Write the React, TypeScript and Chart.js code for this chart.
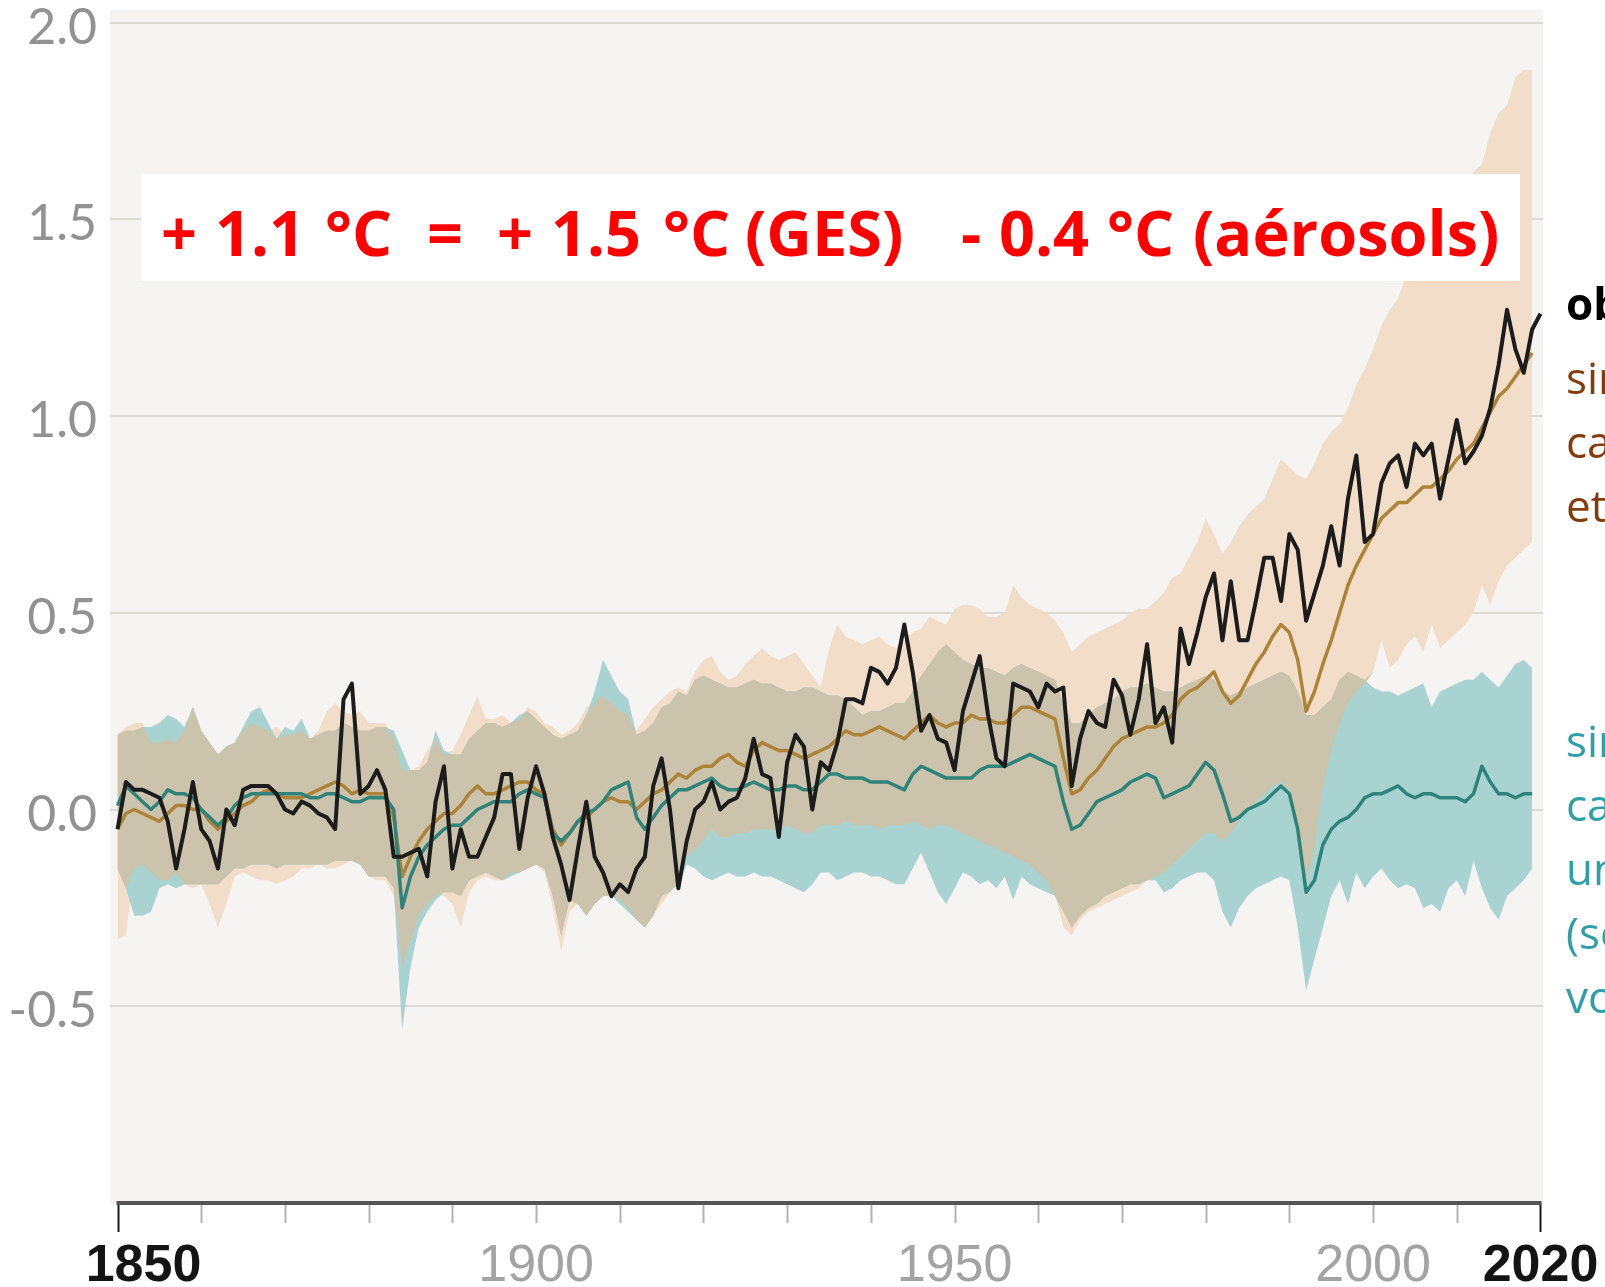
import { useEffect, useRef } from 'react';
import { Chart, registerables } from 'chart.js';

Chart.register(...registerables);

// ---------------- DATA ----------------
const START_YEAR = 1850;

// Observed temperature change (°C), 1850-2020
const OBS = [
  -0.05, 0.07, 0.05, 0.05, 0.04, 0.03, -0.03, -0.15, -0.05, 0.07,
  -0.05, -0.08, -0.15, 0.00, -0.04, 0.05, 0.06, 0.06, 0.06, 0.04,
  0.00, -0.01, 0.02, 0.01, -0.01, -0.02, -0.05, 0.28, 0.32, 0.04,
  0.06, 0.10, 0.05, -0.12, -0.12, -0.11, -0.10, -0.17, 0.02, 0.11,
  -0.15, -0.05, -0.12, -0.12, -0.07, -0.02, 0.09, 0.09, -0.10, 0.03,
  0.11, 0.04, -0.07, -0.14, -0.23, -0.10, 0.02, -0.12, -0.16, -0.22,
  -0.19, -0.21, -0.15, -0.12, 0.06, 0.13, 0.00, -0.20, -0.08, 0.00,
  0.02, 0.07, 0.00, 0.02, 0.03, 0.08, 0.18, 0.09, 0.08, -0.07,
  0.12, 0.19, 0.16, 0.00, 0.12, 0.10, 0.17, 0.28, 0.28, 0.27,
  0.36, 0.35, 0.32, 0.36, 0.47, 0.35, 0.20, 0.24, 0.18, 0.17,
  0.10, 0.25, 0.32, 0.39, 0.24, 0.13, 0.11, 0.32, 0.31, 0.30,
  0.26, 0.32, 0.30, 0.31, 0.06, 0.18, 0.25, 0.22, 0.21, 0.33,
  0.29, 0.19, 0.28, 0.42, 0.22, 0.26, 0.17, 0.46, 0.37, 0.45,
  0.54, 0.60, 0.43, 0.58, 0.43, 0.43, 0.53, 0.64, 0.64, 0.53,
  0.70, 0.66, 0.48, 0.55, 0.62, 0.72, 0.62, 0.79, 0.90, 0.68,
  0.70, 0.83, 0.88, 0.90, 0.82, 0.93, 0.90, 0.93, 0.79, 0.89,
  0.99, 0.88, 0.91, 0.95, 1.02, 1.13, 1.27, 1.17, 1.11, 1.22,
  1.26,
];

// Simulations: human + natural causes (mean), 1850-2019
const SIM_HN = [
  -0.05, -0.01, 0.00, -0.01, -0.02, -0.03, -0.01, 0.01, 0.01, 0.00,
  0.00, -0.03, -0.05, -0.03, -0.01, 0.01, 0.02, 0.04, 0.05, 0.04,
  0.03, 0.03, 0.03, 0.04, 0.05, 0.06, 0.07, 0.06, 0.04, 0.05,
  0.04, 0.04, 0.04, -0.02, -0.17, -0.12, -0.08, -0.05, -0.03, -0.01,
  -0.01, 0.01, 0.04, 0.06, 0.04, 0.04, 0.05, 0.06, 0.07, 0.07,
  0.05, 0.04, -0.05, -0.09, -0.06, -0.03, -0.02, 0.00, 0.02, 0.03,
  0.02, 0.02, 0.00, 0.02, 0.04, 0.05, 0.07, 0.09, 0.08, 0.10,
  0.11, 0.11, 0.13, 0.14, 0.12, 0.11, 0.15, 0.17, 0.16, 0.15,
  0.15, 0.14, 0.13, 0.14, 0.15, 0.16, 0.18, 0.20, 0.19, 0.19,
  0.20, 0.21, 0.20, 0.19, 0.18, 0.20, 0.22, 0.24, 0.22, 0.21,
  0.22, 0.22, 0.24, 0.23, 0.23, 0.22, 0.22, 0.24, 0.26, 0.26,
  0.25, 0.24, 0.23, 0.13, 0.04, 0.05, 0.08, 0.10, 0.13, 0.16,
  0.18, 0.19, 0.20, 0.21, 0.21, 0.22, 0.24, 0.28, 0.30, 0.31,
  0.33, 0.35, 0.30, 0.27, 0.29, 0.33, 0.37, 0.40, 0.44, 0.47,
  0.45, 0.38, 0.25, 0.30, 0.37, 0.43, 0.50, 0.57, 0.62, 0.66,
  0.70, 0.74, 0.76, 0.78, 0.78, 0.80, 0.82, 0.82, 0.84, 0.86,
  0.89, 0.91, 0.93, 0.97, 1.01, 1.05, 1.07, 1.10, 1.13, 1.16,
];

// Simulations: natural causes only (mean), 1850-2019
const SIM_NAT = [
  0.01, 0.06, 0.04, 0.02, 0.00, 0.02, 0.05, 0.04, 0.04, 0.03,
  0.00, -0.02, -0.04, -0.02, 0.01, 0.03, 0.04, 0.04, 0.04, 0.04,
  0.04, 0.04, 0.04, 0.03, 0.03, 0.04, 0.04, 0.03, 0.02, 0.02,
  0.03, 0.03, 0.03, 0.00, -0.25, -0.17, -0.12, -0.09, -0.07, -0.05,
  -0.04, -0.04, -0.02, 0.00, 0.01, 0.02, 0.02, 0.02, 0.04, 0.05,
  0.04, 0.03, -0.06, -0.08, -0.06, -0.03, -0.01, 0.00, 0.02, 0.05,
  0.06, 0.07, -0.02, -0.05, -0.02, 0.01, 0.03, 0.05, 0.05, 0.06,
  0.07, 0.08, 0.06, 0.05, 0.05, 0.06, 0.07, 0.06, 0.05, 0.05,
  0.06, 0.06, 0.05, 0.05, 0.07, 0.09, 0.09, 0.08, 0.08, 0.08,
  0.07, 0.07, 0.07, 0.06, 0.05, 0.09, 0.11, 0.10, 0.09, 0.08,
  0.08, 0.08, 0.08, 0.10, 0.11, 0.11, 0.11, 0.12, 0.13, 0.14,
  0.13, 0.12, 0.11, 0.02, -0.05, -0.04, -0.01, 0.02, 0.03, 0.04,
  0.05, 0.07, 0.08, 0.09, 0.08, 0.03, 0.04, 0.05, 0.06, 0.09,
  0.12, 0.10, 0.04, -0.03, -0.02, 0.00, 0.01, 0.02, 0.04, 0.06,
  0.04, -0.05, -0.21, -0.18, -0.09, -0.05, -0.03, -0.02, 0.00, 0.03,
  0.04, 0.04, 0.05, 0.06, 0.04, 0.03, 0.04, 0.04, 0.03, 0.03,
  0.03, 0.02, 0.04, 0.11, 0.07, 0.04, 0.04, 0.03, 0.04, 0.04,
];

// Human + natural range, upper / lower
const HN_UP = [
  0.19, 0.21, 0.22, 0.22, 0.17, 0.17, 0.18, 0.17, 0.20, 0.26,
  0.20, 0.17, 0.14, 0.16, 0.17, 0.20, 0.22, 0.21, 0.20, 0.21,
  0.19, 0.19, 0.20, 0.18, 0.20, 0.25, 0.27, 0.25, 0.24, 0.25,
  0.22, 0.22, 0.22, 0.18, 0.10, 0.10, 0.11, 0.15, 0.18, 0.14,
  0.15, 0.19, 0.24, 0.29, 0.23, 0.23, 0.24, 0.22, 0.23, 0.26,
  0.25, 0.22, 0.21, 0.19, 0.20, 0.22, 0.26, 0.27, 0.29, 0.27,
  0.25, 0.24, 0.20, 0.23, 0.26, 0.28, 0.30, 0.31, 0.30, 0.35,
  0.38, 0.39, 0.35, 0.33, 0.34, 0.37, 0.39, 0.41, 0.39, 0.38,
  0.39, 0.40, 0.37, 0.34, 0.31, 0.41, 0.47, 0.44, 0.43, 0.42,
  0.43, 0.44, 0.42, 0.41, 0.43, 0.45, 0.46, 0.49, 0.48, 0.47,
  0.51, 0.52, 0.52, 0.51, 0.49, 0.49, 0.50, 0.57, 0.54, 0.52,
  0.51, 0.50, 0.48, 0.45, 0.40, 0.42, 0.44, 0.45, 0.46, 0.47,
  0.48, 0.50, 0.51, 0.51, 0.53, 0.55, 0.59, 0.60, 0.64, 0.68,
  0.74, 0.70, 0.65, 0.68, 0.72, 0.75, 0.77, 0.79, 0.84, 0.89,
  0.87, 0.85, 0.84, 0.88, 0.93, 0.96, 0.98, 1.02, 1.08, 1.12,
  1.17, 1.23, 1.27, 1.30, 1.36, 1.42, 1.46, 1.50, 1.54, 1.56,
  1.58, 1.60, 1.62, 1.64, 1.72, 1.77, 1.79, 1.86, 1.88, 1.88,
];
const HN_LO = [
  -0.33, -0.32, -0.15, -0.14, -0.16, -0.18, -0.18, -0.16, -0.19, -0.20,
  -0.19, -0.24, -0.30, -0.24, -0.17, -0.16, -0.17, -0.18, -0.18, -0.19,
  -0.18, -0.17, -0.15, -0.15, -0.14, -0.15, -0.15, -0.14, -0.13, -0.14,
  -0.17, -0.18, -0.18, -0.22, -0.40, -0.33, -0.27, -0.24, -0.22, -0.22,
  -0.24, -0.30, -0.21, -0.18, -0.17, -0.18, -0.18, -0.16, -0.16, -0.15,
  -0.14, -0.16, -0.25, -0.36, -0.26, -0.24, -0.27, -0.24, -0.22, -0.22,
  -0.23, -0.25, -0.28, -0.30, -0.27, -0.24, -0.21, -0.18, -0.12, -0.10,
  -0.08, -0.05, -0.07, -0.07, -0.06, -0.06, -0.05, -0.05, -0.05, -0.05,
  -0.04, -0.05, -0.06, -0.06, -0.04, -0.04, -0.04, -0.03, -0.04, -0.04,
  -0.04, -0.05, -0.04, -0.04, -0.04, -0.03, -0.04, -0.05, -0.04, -0.04,
  -0.05, -0.06, -0.07, -0.08, -0.09, -0.10, -0.11, -0.12, -0.13, -0.14,
  -0.16, -0.18, -0.22, -0.30, -0.32, -0.28, -0.26, -0.25, -0.24, -0.23,
  -0.22, -0.21, -0.20, -0.18, -0.17, -0.16, -0.14, -0.12, -0.10, -0.08,
  -0.06, -0.06, -0.08, -0.06, -0.03, 0.00, 0.02, 0.04, 0.06, 0.07,
  0.05, -0.06, -0.18, -0.10, 0.06, 0.15, 0.22, 0.27, 0.30, 0.32,
  0.35, 0.43, 0.36, 0.38, 0.42, 0.44, 0.40, 0.47, 0.41, 0.43,
  0.45, 0.47, 0.50, 0.57, 0.52, 0.58, 0.62, 0.64, 0.66, 0.68,
];

// Natural-only range, upper / lower
const NAT_UP = [
  0.19, 0.20, 0.20, 0.21, 0.21, 0.22, 0.24, 0.23, 0.21, 0.26,
  0.20, 0.17, 0.14, 0.16, 0.17, 0.21, 0.25, 0.26, 0.22, 0.18,
  0.21, 0.20, 0.23, 0.18, 0.19, 0.20, 0.20, 0.22, 0.21, 0.20,
  0.20, 0.21, 0.21, 0.20, 0.15, 0.10, 0.10, 0.12, 0.20, 0.15,
  0.14, 0.14, 0.18, 0.20, 0.22, 0.22, 0.21, 0.22, 0.24, 0.25,
  0.23, 0.21, 0.19, 0.18, 0.19, 0.20, 0.24, 0.30, 0.38, 0.34,
  0.30, 0.28, 0.19, 0.20, 0.22, 0.26, 0.27, 0.30, 0.29, 0.33,
  0.34, 0.33, 0.32, 0.31, 0.31, 0.32, 0.33, 0.32, 0.32, 0.31,
  0.30, 0.30, 0.31, 0.31, 0.30, 0.29, 0.29, 0.28, 0.26, 0.24,
  0.25, 0.25, 0.26, 0.27, 0.27, 0.30, 0.34, 0.37, 0.40, 0.42,
  0.40, 0.38, 0.37, 0.36, 0.36, 0.35, 0.34, 0.36, 0.37, 0.36,
  0.35, 0.34, 0.33, 0.27, 0.22, 0.22, 0.24, 0.26, 0.27, 0.28,
  0.30, 0.31, 0.31, 0.32, 0.31, 0.30, 0.30, 0.31, 0.32, 0.33,
  0.34, 0.33, 0.30, 0.29, 0.30, 0.31, 0.32, 0.33, 0.34, 0.35,
  0.34, 0.30, 0.24, 0.24, 0.26, 0.28, 0.33, 0.35, 0.34, 0.33,
  0.31, 0.30, 0.30, 0.29, 0.30, 0.31, 0.32, 0.26, 0.30, 0.31,
  0.32, 0.33, 0.33, 0.35, 0.33, 0.31, 0.34, 0.37, 0.38, 0.36,
];
const NAT_LO = [
  -0.15, -0.20, -0.27, -0.27, -0.26, -0.20, -0.19, -0.20, -0.19, -0.19,
  -0.19, -0.19, -0.19, -0.17, -0.15, -0.15, -0.14, -0.14, -0.14, -0.15,
  -0.14, -0.14, -0.14, -0.14, -0.14, -0.14, -0.13, -0.13, -0.13, -0.14,
  -0.17, -0.17, -0.17, -0.20, -0.56, -0.40, -0.30, -0.26, -0.23, -0.21,
  -0.21, -0.22, -0.18, -0.17, -0.16, -0.17, -0.18, -0.17, -0.16, -0.15,
  -0.14, -0.15, -0.22, -0.32, -0.23, -0.24, -0.27, -0.24, -0.22, -0.22,
  -0.24, -0.26, -0.28, -0.30, -0.27, -0.22, -0.21, -0.19, -0.14, -0.15,
  -0.17, -0.18, -0.17, -0.16, -0.17, -0.17, -0.16, -0.17, -0.17, -0.18,
  -0.19, -0.20, -0.21, -0.19, -0.16, -0.16, -0.18, -0.17, -0.16, -0.16,
  -0.17, -0.17, -0.18, -0.19, -0.19, -0.15, -0.11, -0.16, -0.21, -0.24,
  -0.20, -0.16, -0.17, -0.19, -0.18, -0.20, -0.17, -0.23, -0.17, -0.19,
  -0.20, -0.21, -0.22, -0.26, -0.30, -0.27, -0.25, -0.24, -0.22, -0.21,
  -0.20, -0.19, -0.19, -0.18, -0.18, -0.21, -0.20, -0.18, -0.17, -0.16,
  -0.16, -0.18, -0.26, -0.30, -0.25, -0.22, -0.20, -0.19, -0.18, -0.17,
  -0.18, -0.30, -0.46, -0.38, -0.30, -0.22, -0.18, -0.24, -0.16, -0.20,
  -0.17, -0.15, -0.18, -0.20, -0.19, -0.20, -0.25, -0.24, -0.26, -0.20,
  -0.18, -0.22, -0.13, -0.20, -0.25, -0.28, -0.22, -0.20, -0.18, -0.15,
];

// Axis ticks and labels
const Y_TICKS = [-0.5, 0.0, 0.5, 1.0, 1.5, 2.0];
const X_LABEL_YEARS = [1850, 1900, 1950, 2000, 2020];
const X_MINOR_TICK_YEARS = [1860, 1870, 1880, 1890, 1900, 1910, 1920, 1930, 1940, 1950, 1960, 1970, 1980, 1990, 2000, 2010];
const X_EMPHASIS_YEARS = [1850, 2020];

// Annotation texts
const HEADLINE_PARTS = ['+', '1.1', '°C', '=', '+', '1.5', '°C', '(GES)', '-', '0.4', '°C', '(aérosols)'];
const LABEL_OBS = 'observations';
const LABEL_HN = ['simulations', 'causes humaines', 'et naturelles'];
const LABEL_NAT = ['simulations', 'causes naturelles', 'uniquement', '(soleil et', 'volcans)'];

// ---------------- STYLE ----------------
const C_BG = '#f5f4f2';
const C_GRID = '#dddad6';
const C_TAN = '#f2dec8';
const C_TEAL_BAND = '#a9d3d1';
const C_OVERLAP = '#cbc3ab';
const C_OBS = '#1c1c1c';
const C_HN = '#ad8338';
const C_NAT = '#2e847b';

const toPts = (arr: number[]) => arr.map((v, i) => ({ x: START_YEAR + i, y: v }));

export default function App() {
  const ref = useRef<HTMLCanvasElement>(null);

  useEffect(() => {
    const canvas = ref.current;
    if (!canvas) return;

    const ovLo = HN_LO.map((l, i) => Math.max(l, NAT_LO[i]));
    const ovUp = HN_UP.map((u, i) => Math.max(Math.min(u, NAT_UP[i]), ovLo[i]));

    const bgPlugin = {
      id: 'bgPlugin',
      beforeDraw(chart: any) {
        const { ctx, chartArea } = chart;
        ctx.save();
        ctx.fillStyle = '#ffffff';
        ctx.fillRect(0, 0, chart.width, chart.height);
        ctx.fillStyle = C_BG;
        ctx.fillRect(chartArea.left, chartArea.top, chartArea.right - chartArea.left, chartArea.bottom - chartArea.top);
        ctx.restore();
      },
    };

    const overlayPlugin = {
      id: 'overlayPlugin',
      afterDraw(chart: any) {
        const { ctx, chartArea } = chart;
        const xs = chart.scales.x;
        const axisY = chartArea.bottom;
        ctx.save();

        // minor ticks
        ctx.strokeStyle = '#b3b3b3';
        ctx.lineWidth = 2;
        X_MINOR_TICK_YEARS.forEach((yr) => {
          const px = Math.round(xs.getPixelForValue(yr)) + 0.5;
          ctx.beginPath();
          ctx.moveTo(px, axisY);
          ctx.lineTo(px, axisY + 20);
          ctx.stroke();
        });
        // end ticks
        ctx.strokeStyle = '#1a1a1a';
        ctx.lineWidth = 2;
        X_EMPHASIS_YEARS.forEach((yr) => {
          const px = Math.round(xs.getPixelForValue(yr)) + 0.5;
          ctx.beginPath();
          ctx.moveTo(px, axisY);
          ctx.lineTo(px, axisY + 29);
          ctx.stroke();
        });
        // axis line
        ctx.strokeStyle = '#555555';
        ctx.lineWidth = 4;
        ctx.beginPath();
        ctx.moveTo(xs.getPixelForValue(1850) - 1, axisY);
        ctx.lineTo(xs.getPixelForValue(2020) + 1, axisY);
        ctx.stroke();

        // x labels
        ctx.textBaseline = 'alphabetic';
        ctx.textAlign = 'center';
        X_LABEL_YEARS.forEach((yr) => {
          const strong = X_EMPHASIS_YEARS.includes(yr);
          ctx.font = strong ? 'bold 52px "Liberation Sans"' : '52px "Liberation Sans"';
          ctx.fillStyle = strong ? '#141414' : '#a3a3a3';
          let px = xs.getPixelForValue(yr);
          if (yr === 1850) px += 26;
          ctx.fillText(String(yr), px, 1281);
        });

        // headline box
        ctx.fillStyle = '#ffffff';
        ctx.fillRect(141, 174, 1379, 107);
        ctx.fillStyle = '#ff0000';
        ctx.font = 'bold 63px "Open Sans"';
        ctx.textAlign = 'left';
        const partX = [161, 215, 325, 427, 497, 551, 663, 745, 961, 999, 1107, 1193];
        HEADLINE_PARTS.forEach((t, i) => ctx.fillText(t, partX[i], 256));

        // right-hand labels (clipped by the picture edge)
        ctx.textAlign = 'left';
        ctx.font = 'bold 44px "Open Sans"';
        ctx.fillStyle = '#000000';
        ctx.fillText(LABEL_OBS, 1566, 320);
        ctx.font = '44px "Open Sans"';
        ctx.fillStyle = '#843c0c';
        LABEL_HN.forEach((t, i) => ctx.fillText(t, 1566, 394 + i * 64));
        ctx.fillStyle = '#2e9fa6';
        LABEL_NAT.forEach((t, i) => ctx.fillText(t, 1566, 757 + i * 64));

        ctx.restore();
      },
    };

    const bandBase = { pointRadius: 0, borderWidth: 0, tension: 0, borderColor: 'rgba(0,0,0,0)' };

    const chart = new Chart(canvas, {
      type: 'line',
      data: {
        datasets: [
          { ...bandBase, label: 'hnLo', data: toPts(HN_LO), fill: false, order: 20 },
          { ...bandBase, label: 'hnUp', data: toPts(HN_UP), fill: '-1', backgroundColor: C_TAN, order: 19 },
          { ...bandBase, label: 'natLo', data: toPts(NAT_LO), fill: false, order: 18 },
          { ...bandBase, label: 'natUp', data: toPts(NAT_UP), fill: '-1', backgroundColor: C_TEAL_BAND, order: 17 },
          { ...bandBase, label: 'ovLo', data: toPts(ovLo), fill: false, order: 16 },
          { ...bandBase, label: 'ovUp', data: toPts(ovUp), fill: '-1', backgroundColor: C_OVERLAP, order: 15 },
          { label: 'hn', data: toPts(SIM_HN), borderColor: C_HN, borderWidth: 3.5, pointRadius: 0, fill: false, tension: 0, order: 3, borderJoinStyle: 'round' },
          { label: 'nat', data: toPts(SIM_NAT), borderColor: C_NAT, borderWidth: 3.5, pointRadius: 0, fill: false, tension: 0, order: 2, borderJoinStyle: 'round' },
          { label: 'obs', data: toPts(OBS), borderColor: C_OBS, borderWidth: 4, pointRadius: 0, fill: false, tension: 0, order: 1, borderJoinStyle: 'round' },
        ] as any,
      },
      options: {
        responsive: false,
        animation: false,
        devicePixelRatio: 1,
        parsing: false,
        layout: { padding: { left: 0, top: 10, right: 62, bottom: 0 } },
        plugins: { legend: { display: false }, tooltip: { enabled: false } },
        scales: {
          x: {
            type: 'linear',
            min: 1849.1,
            max: 2020.3,
            grid: { display: false },
            border: { display: false },
            ticks: { display: false },
            afterFit: (s: any) => {
              s.height = 84;
              s.paddingLeft = 0;
              s.paddingRight = 0;
            },
          },
          y: {
            type: 'linear',
            min: -1,
            max: 2.032,
            afterBuildTicks: (s: any) => {
              s.ticks = Y_TICKS.map((value) => ({ value }));
            },
            ticks: {
              padding: 13,
              labelOffset: 5,
              color: '#929292',
              font: { family: 'Lato', size: 50, weight: 'normal' },
              callback: (v: any) => Number(v).toFixed(1),
            },
            grid: { color: C_GRID, lineWidth: 2, drawTicks: false },
            border: { display: false },
            afterFit: (s: any) => {
              s.width = 110;
              s.paddingTop = 0;
              s.paddingBottom = 0;
            },
          },
        },
      } as any,
      plugins: [bgPlugin, overlayPlugin],
    });

    return () => chart.destroy();
  }, []);

  return (
    <div style={{ position: 'fixed', left: 0, top: 0, width: 1605, height: 1287, background: '#fff', overflow: 'hidden' }}>
      <canvas ref={ref} width={1605} height={1287} style={{ display: 'block' }} />
    </div>
  );
}
